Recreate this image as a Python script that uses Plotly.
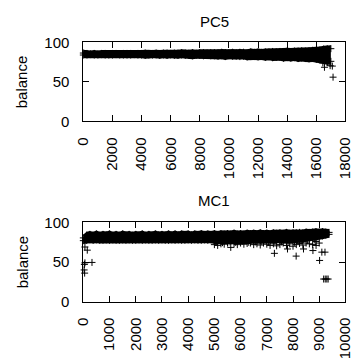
import plotly.graph_objects as go

# ---------------- PC5 ----------------
pc5_step = 250
pc5_x = list(range(0, 17001, pc5_step))
pc5_hi = [86.5, 86, 85.5, 86, 85.5, 86, 86, 85.5, 86, 86, 85.5, 86, 86, 86, 85.5, 86,
          86, 86.5, 86, 86, 86.5, 86, 86.5, 86.5, 86, 86.5, 86.5, 87, 86.5, 86.5, 87, 86.5,
          87, 87, 86.5, 87, 87, 87, 87.5, 87, 87, 87.5, 87, 87.5, 87.5, 87, 88, 87.5,
          88, 87.5, 88, 88, 88.5, 88, 88.5, 88.5, 89, 88.5, 89, 89, 89.5, 89, 89.5, 90,
          90, 90.5, 91.5, 92, 92]
pc5_lo = [84, 84, 84.5, 84, 84, 84.5, 84, 84, 84, 84.5, 84, 84, 84, 84, 84.5, 84,
          84, 83.5, 84, 84, 84, 83.5, 84, 83.5, 84, 83.5, 83.5, 84, 83.5, 83.5, 83, 83.5,
          83.5, 83, 83.5, 83, 83, 82.5, 83, 82, 83, 82.5, 82.5, 82, 82.5, 81.5, 82, 82,
          81.5, 82, 81, 81.5, 80.5, 81, 81, 80, 80.5, 80, 80.5, 79.5, 80, 79.5, 79, 79.5,
          78.5, 78, 77, 76, 76]
pc5_out_x = [16450, 16560, 16750, 16950, 17100, 17150]
pc5_out_y = [74, 68.5, 74.5, 70.5, 70, 56]

# ---------------- MC1 ----------------
mc1_step = 125
mc1_x = list(range(0, 9376, mc1_step))
mc1_hi = [80.5, 84, 85, 84, 85.5, 84, 85, 84.5, 85.5, 84, 85, 84, 85.5, 84.5, 85, 84,
          85, 84.5, 85.5, 84, 85, 84.5, 85.5, 84.5, 85, 84.5, 85.5, 84.5, 85.5, 84.5, 85.5, 85,
          85.5, 84.5, 85.5, 85, 86, 85, 85.5, 85, 86, 85, 86, 85.5, 86, 85.5, 86.5, 85.5,
          86, 85.5, 86.5, 86, 86.5, 86, 87, 86, 86.5, 86, 87, 86.5, 87, 86.5, 87.5, 86.5,
          87, 87, 87.5, 87, 88, 87.5, 88, 88.5, 88, 88.5, 88, 87.5]
mc1_lo = [77, 77.5, 78, 77.5, 78, 77.5, 77.5, 78, 77.5, 78, 77.5, 77.5, 78, 77.5, 78, 77.5,
          77.5, 78, 77.5, 78, 77.5, 77.5, 78, 77.5, 78, 77.5, 77.5, 78, 77.5, 78, 77.5, 77.5,
          78, 77.5, 78, 77.5, 77.5, 78, 77.5, 78, 77, 77, 76.5, 77, 77, 76.5, 77, 77,
          76.5, 77, 77, 77, 78, 78, 77.5, 78, 78, 77.5, 78, 78, 77.5, 78, 78, 78,
          78, 78, 78.5, 78.5, 80, 80.5, 81, 81.5, 82, 83, 84, 85]
# sparser points hanging below the dense band (two loose rows)
mc1_low_x = [5000, 5125, 5250, 5375, 5500, 5625, 5750, 5875, 6000, 6125, 6250, 6375, 6500,
             6625, 6750, 6875, 7000, 7125, 7250, 7375, 7500, 7625, 7750, 7875, 8000, 8125,
             8250, 8375, 8500, 8625, 8750, 8875, 9000]
mc1_low_y = [72, 71, 73, 72.5, 74, 68.5, 73, 72, 74, 72.5, 73.5, 74, 72, 73, 71.5, 74, 72.5,
             71, 73, 70.5, 72, 74, 71, 73, 70, 72, 73.5, 71.5, 74, 73, 72, 76, 74]
mc1_mid_x = [5060, 5310, 5560, 5810, 6060, 6310, 6560, 6810, 7060, 7310, 7560, 7810, 8060,
             8310, 8560, 8810]
mc1_mid_y = [75, 74.5, 75.5, 75, 76, 75, 75.5, 76, 75, 76, 75.5, 76.5, 75, 76.5, 77, 78]
mc1_out_x = [60, 150, 40, 60, 330, 30, 50, 7290, 7790, 8120, 8400, 8760, 8880, 9015, 9100,
             9220, 9170, 9230, 9290, 9340]
mc1_out_y = [69, 65, 47, 49, 49.5, 40, 36, 61, 66.5, 57.5, 66.5, 64.5, 71, 52, 62.5, 62.5,
             28.5, 28.5, 28.5, 28.5]

# ---------------- layout geometry ----------------
W = H = 362
X0, X1 = 78, 353
panels = [
    dict(name="PC5", top=35, bottom=118, title_y=13.5, xmax=18000, dtick=2000,
         x=pc5_x, hi=pc5_hi, lo=pc5_lo, extra=[(pc5_out_x, pc5_out_y)]),
    dict(name="MC1", top=224, bottom=307, title_y=201, xmax=10000, dtick=1000,
         x=mc1_x, hi=mc1_hi, lo=mc1_lo,
         extra=[(mc1_mid_x, mc1_mid_y), (mc1_low_x, mc1_low_y), (mc1_out_x, mc1_out_y)]),
]

MARK = 5            # cross-thin arms reach 0.7 * size
HALF_PX = 0.7 * MARK
FONT = "Liberation Sans, Arial, sans-serif"
NARROW = "Liberation Sans Narrow, Arial Narrow, Liberation Sans, sans-serif"

plus = dict(symbol="cross-thin", size=MARK, color="black",
            line=dict(width=1, color="black"))

fig = go.Figure()
annotations = []
for i, p in enumerate(panels, start=1):
    xa = "x" if i == 1 else f"x{i}"
    ya = "y" if i == 1 else f"y{i}"
    pad = HALF_PX * 100.0 / (p["bottom"] - p["top"])
    lower = [v - pad for v in p["lo"]]
    upper = [v + pad for v in p["hi"]]
    # solid body of the overlapping point cloud
    fig.add_trace(go.Scatter(x=p["x"], y=lower, mode="lines", line=dict(width=0),
                             xaxis=xa, yaxis=ya, hoverinfo="skip", showlegend=False))
    fig.add_trace(go.Scatter(x=p["x"], y=upper, mode="lines", line=dict(width=0),
                             fill="tonexty", fillcolor="black",
                             xaxis=xa, yaxis=ya, hoverinfo="skip", showlegend=False))
    # points on the cloud's edges
    fig.add_trace(go.Scatter(x=p["x"] + p["x"], y=p["hi"] + p["lo"], mode="markers",
                             marker=plus, cliponaxis=False, xaxis=xa, yaxis=ya,
                             showlegend=False))
    for ex, ey in p["extra"]:
        fig.add_trace(go.Scatter(x=ex, y=ey, mode="markers", marker=plus,
                                 cliponaxis=False, xaxis=xa, yaxis=ya, showlegend=False))

    dom_y = [1 - p["bottom"] / H, 1 - p["top"] / H]
    axis_common = dict(showline=True, linecolor="black", linewidth=1, mirror="allticks",
                       ticks="inside", ticklen=6, tickcolor="black", tickwidth=1,
                       showgrid=False, zeroline=False, tickformat="d")
    fig.update_layout(**{
        ("xaxis" if i == 1 else f"xaxis{i}"): dict(
            domain=[X0 / W, X1 / W], anchor=ya, range=[0, p["xmax"]], dtick=p["dtick"],
            tick0=0, tickangle=-90, ticklabelstandoff=9,
            tickfont=dict(family=NARROW, size=15, color="black"), **axis_common),
        ("yaxis" if i == 1 else f"yaxis{i}"): dict(
            domain=dom_y, anchor=xa, range=[0, 100], dtick=50, tick0=0,
            ticklabelstandoff=10,
            tickfont=dict(family=FONT, size=15, color="black"), **axis_common),
    })
    annotations.append(dict(text=p["name"], x=(X0 + X1) / 2 / W, y=1 - p["title_y"] / H,
                            xref="paper", yref="paper", xanchor="center", yanchor="middle",
                            showarrow=False, font=dict(family=FONT, size=15, color="black")))
    annotations.append(dict(text="balance", x=14 / W,
                            y=1 - (p["top"] + p["bottom"]) / 2 / H,
                            xref="paper", yref="paper", xanchor="center", yanchor="middle",
                            textangle=-90, showarrow=False,
                            font=dict(family=FONT, size=15, color="black")))

fig.update_layout(width=W, height=H, autosize=False,
                  margin=dict(l=0, r=0, t=0, b=0),
                  paper_bgcolor="white", plot_bgcolor="white",
                  annotations=annotations)

fig.write_html("out.html")
